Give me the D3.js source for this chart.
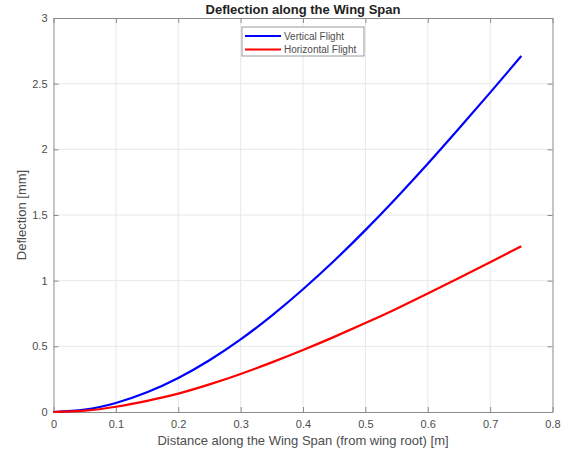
<!DOCTYPE html>
<html>
<head>
<meta charset="utf-8">
<script src="https://cdn.jsdelivr.net/npm/d3@7"></script>
<style>
  body { margin: 0; background: #fff; }
  text { font-family: "Liberation Sans", Arial, sans-serif; }
</style>
</head>
<body>
<svg id="chart" width="568" height="457"></svg>
<script>
// distance along span [m]
const span = [0, 0.05, 0.1, 0.15, 0.2, 0.25, 0.3, 0.35, 0.4, 0.45, 0.5, 0.55, 0.6, 0.65, 0.7, 0.75];
// deflection [mm]
const vertical = [0, 0.018, 0.069, 0.15, 0.259, 0.394, 0.553, 0.734, 0.935, 1.152, 1.385, 1.632, 1.89, 2.158, 2.432, 2.71];
const horizontal = [0, 0.01, 0.04, 0.085, 0.14, 0.21, 0.29, 0.378, 0.472, 0.572, 0.677, 0.787, 0.902, 1.02, 1.14, 1.262];
const xTicks = [0, 0.1, 0.2, 0.3, 0.4, 0.5, 0.6, 0.7, 0.8];
const yTicks = [0, 0.5, 1, 1.5, 2, 2.5, 3];
const seriesNames = ["Vertical Flight", "Horizontal Flight"];
const seriesColors = ["#0000ff", "#ff0000"];

const svg = d3.select("#chart");
const m = {left: 53.5, right: 552.5, top: 18, bottom: 412};

const x = d3.scaleLinear().domain([0, 0.8]).range([m.left, m.right]);
const y = d3.scaleLinear().domain([0, 3]).range([m.bottom, m.top]);

const axisColor = "#8c8c8c";
const textColor = "#4d4d4d";

// grid
svg.append("g").selectAll("line")
    .data(xTicks.slice(1, -1)).enter().append("line")
    .attr("x1", d => x(d)).attr("x2", d => x(d))
    .attr("y1", m.top).attr("y2", m.bottom)
    .attr("stroke", "#e8e8e8").attr("stroke-width", 1);
svg.append("g").selectAll("line")
    .data(yTicks.slice(1, -1)).enter().append("line")
    .attr("y1", d => y(d)).attr("y2", d => y(d))
    .attr("x1", m.left).attr("x2", m.right)
    .attr("stroke", "#e8e8e8").attr("stroke-width", 1);

// axes, ticks inward
const fmt = d => d3.format("")(d);
const gx = svg.append("g").attr("transform", `translate(0,${m.bottom})`)
    .call(d3.axisBottom(x).tickValues(xTicks).tickFormat(fmt).tickSizeInner(-5).tickSizeOuter(0).tickPadding(8));
const gxTop = svg.append("g").attr("transform", `translate(0,${m.top})`)
    .call(d3.axisTop(x).tickValues(xTicks).tickFormat("").tickSizeInner(-5).tickSizeOuter(0));
const gy = svg.append("g").attr("transform", `translate(${m.left},0)`)
    .call(d3.axisLeft(y).tickValues(yTicks).tickFormat(fmt).tickSizeInner(-5).tickSizeOuter(0).tickPadding(6));
const gyRight = svg.append("g").attr("transform", `translate(${m.right},0)`)
    .call(d3.axisRight(y).tickValues(yTicks).tickFormat("").tickSizeInner(-5).tickSizeOuter(0));

[gx, gxTop, gy, gyRight].forEach(g => {
    g.select(".domain").attr("stroke", axisColor);
    g.selectAll(".tick line").attr("stroke", axisColor);
    g.selectAll(".tick text").attr("fill", textColor).style("font-size", "11px");
});

// lines
const line = d3.line().x(d => x(d[0])).y(d => y(d[1])).curve(d3.curveNatural);
[vertical, horizontal].forEach((vals, i) => {
    svg.append("path")
        .datum(span.map((s, j) => [s, vals[j]]))
        .attr("fill", "none")
        .attr("stroke", seriesColors[i])
        .attr("stroke-width", 2.2)
        .attr("d", line);
});

// title and labels
svg.append("text")
    .attr("x", (m.left + m.right) / 2).attr("y", 13.5)
    .attr("text-anchor", "middle")
    .style("font-size", "13px").style("font-weight", "bold")
    .attr("fill", "#222")
    .text("Deflection along the Wing Span");

svg.append("text")
    .attr("x", (m.left + m.right) / 2).attr("y", 445)
    .attr("text-anchor", "middle")
    .style("font-size", "13px")
    .attr("fill", textColor)
    .text("Distance along the Wing Span (from wing root) [m]");

svg.append("text")
    .attr("transform", `translate(26,${(m.top + m.bottom) / 2}) rotate(-90)`)
    .attr("text-anchor", "middle")
    .style("font-size", "13px")
    .attr("fill", textColor)
    .text("Deflection [mm]");

// legend
const lg = svg.append("g").attr("transform", "translate(242,27)");
lg.append("rect")
    .attr("width", 122).attr("height", 29)
    .attr("fill", "#fff").attr("stroke", "#9a9a9a").attr("stroke-width", 1);
seriesNames.forEach((name, i) => {
    const yy = 9 + i * 13.5;
    lg.append("line")
        .attr("x1", 3).attr("x2", 39).attr("y1", yy).attr("y2", yy)
        .attr("stroke", seriesColors[i]).attr("stroke-width", 2.2);
    lg.append("text")
        .attr("x", 42).attr("y", yy + 3.5)
        .style("font-size", "10px")
        .attr("fill", textColor)
        .text(name);
});
</script>
</body>
</html>
